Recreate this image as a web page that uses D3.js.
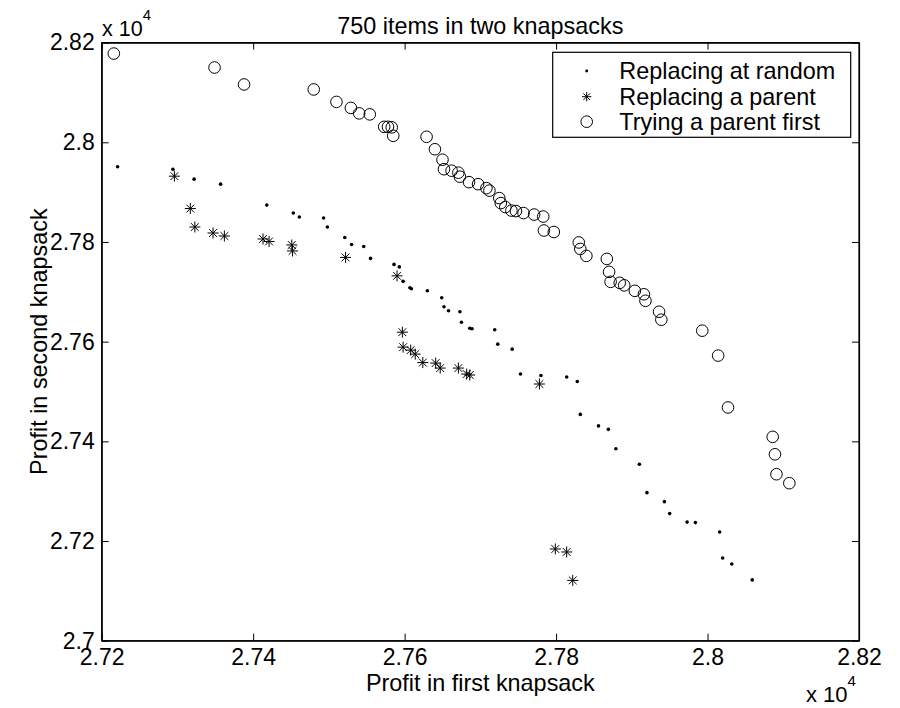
<!DOCTYPE html>
<html>
<head>
<meta charset="utf-8">
<script src="https://cdn.jsdelivr.net/npm/d3@7"></script>
<style>
  html, body { margin: 0; padding: 0; background: #fff; }
  svg { display: block; }
  text { font-family: "Liberation Sans", Arial, Helvetica, sans-serif; fill: #000; }
</style>
</head>
<body>
<svg id="chart" width="900" height="708"></svg>
<script>
// ---- Data (values in raw units; axes show x 10^4) ----
const title = "750 items in two knapsacks";
const xLabel = "Profit in first knapsack";
const yLabel = "Profit in second knapsack";
const seriesNames = ["Replacing at random", "Replacing a parent", "Trying a parent first"];

const xTicks = [27200, 27400, 27600, 27800, 28000, 28200];
const xTickLabels = ["2.72", "2.74", "2.76", "2.78", "2.8", "2.82"];
const yTicks = [27000, 27200, 27400, 27600, 27800, 28000, 28200];
const yTickLabels = ["2.7", "2.72", "2.74", "2.76", "2.78", "2.8", "2.82"];

// Replacing at random (dots)
const randomX = [27221, 27294, 27322, 27357, 27418, 27453, 27461, 27493, 27498, 27521, 27530, 27546,
  27555, 27586, 27593, 27598, 27607, 27609, 27630, 27649, 27652, 27658, 27673, 27675, 27686, 27689,
  27719, 27723, 27742, 27753, 27780, 27814, 27828, 27832, 27856, 27869, 27879, 27910, 27920, 27943,
  27950, 27973, 27984, 28016, 28020, 28032, 28059];
const randomY = [27951, 27946, 27926, 27916, 27874, 27858, 27850, 27848, 27830, 27809, 27795, 27791,
  27767, 27755, 27750, 27721, 27708, 27706, 27702, 27688, 27670, 27662, 27660, 27639, 27627, 27626,
  27624, 27595, 27585, 27535, 27532, 27529, 27520, 27454, 27431, 27424, 27385, 27354, 27297, 27279,
  27255, 27238, 27237, 27218, 27166, 27154, 27122];

// Replacing a parent (asterisks)
const parentX = [27296, 27317, 27323, 27347, 27362, 27413, 27421, 27451, 27452, 27522, 27590, 27597,
  27598, 27608, 27614, 27624, 27641, 27647, 27671, 27682, 27686, 27778, 27799, 27814, 27822];
const parentY = [27932, 27867, 27830, 27818, 27812, 27806, 27801, 27794, 27782, 27769, 27732, 27619,
  27589, 27583, 27575, 27558, 27557, 27547, 27547, 27535, 27533, 27515, 27184, 27178, 27121];

// Trying a parent first (circles)
const firstX = [27216, 27349, 27388, 27480, 27510, 27529, 27540, 27554, 27573, 27578, 27583, 27585,
  27629, 27640, 27650, 27652, 27662, 27671, 27673, 27685, 27697, 27708, 27712, 27725, 27727, 27733,
  27741, 27747, 27757, 27771, 27783, 27784, 27797, 27830, 27832, 27840, 27867, 27870, 27872, 27884,
  27890, 27904, 27916, 27918, 27936, 27939, 27993, 28014, 28027, 28086, 28089, 28091, 28108];
const firstY = [28178, 28150, 28116, 28106, 28081, 28069, 28058, 28056, 28031, 28031, 28030, 28013,
  28011, 27986, 27965, 27946, 27943, 27939, 27931, 27920, 27916, 27908, 27903, 27888, 27878, 27870,
  27863, 27862, 27858, 27855, 27851, 27823, 27820, 27799, 27786, 27772, 27766, 27740, 27720, 27718,
  27713, 27702, 27695, 27682, 27660, 27644, 27622, 27572, 27468, 27409, 27374, 27334, 27316];

// ---- Layout ----
const svg = d3.select("#chart");
const L = 101.7, R = 859, T = 42.6, B = 640.7;
const x = d3.scaleLinear().domain([27200, 28200]).range([L, R]);
const y = d3.scaleLinear().domain([27000, 28200]).range([B, T]);
const FS = 23.4, TFS = 23;
const tickLen = 7;

// Box
svg.append("rect").attr("x", L).attr("y", T).attr("width", R - L).attr("height", B - T)
  .attr("fill", "#fff").attr("stroke", "#000").attr("stroke-width", 1.2);

// Axes with inward ticks
const xfmt = d => xTickLabels[xTicks.indexOf(d)];
const yfmt = d => yTickLabels[yTicks.indexOf(d)];

const gx = svg.append("g").attr("transform", `translate(0,${B})`)
  .call(d3.axisBottom(x).tickValues(xTicks).tickFormat(xfmt).tickSizeInner(-tickLen).tickSizeOuter(0).tickPadding(8));
const gxt = svg.append("g").attr("transform", `translate(0,${T})`)
  .call(d3.axisTop(x).tickValues(xTicks).tickFormat("").tickSizeInner(-tickLen).tickSizeOuter(0));
const gy = svg.append("g").attr("transform", `translate(${L},0)`)
  .call(d3.axisLeft(y).tickValues(yTicks).tickFormat(yfmt).tickSizeInner(-tickLen).tickSizeOuter(0).tickPadding(7));
const gyr = svg.append("g").attr("transform", `translate(${R},0)`)
  .call(d3.axisRight(y).tickValues(yTicks).tickFormat("").tickSizeInner(-tickLen).tickSizeOuter(0));

[gx, gxt, gy, gyr].forEach(g => {
  g.select(".domain").attr("stroke", "#000").attr("stroke-width", 1.2);
  g.selectAll(".tick line").attr("stroke", "#000").attr("stroke-width", 1);
  g.selectAll("text").attr("font-size", TFS).attr("font-family", "Liberation Sans, Arial, sans-serif").attr("fill", "#000");
});

// Markers
const dotR = 1.8, circR = 5.8, starH = 5.5;
function drawStar(g, cx, cy, h) {
  const d = h * Math.SQRT1_2;
  const p = `M${cx - h},${cy}L${cx + h},${cy}M${cx},${cy - h}L${cx},${cy + h}` +
            `M${cx - d},${cy - d}L${cx + d},${cy + d}M${cx - d},${cy + d}L${cx + d},${cy - d}`;
  g.append("path").attr("d", p).attr("stroke", "#000").attr("stroke-width", 1).attr("fill", "none");
}

const plot = svg.append("g");
plot.selectAll("circle.rand").data(randomX.map((v, i) => [v, randomY[i]])).enter()
  .append("circle").attr("class", "rand")
  .attr("cx", d => x(d[0])).attr("cy", d => y(d[1])).attr("r", dotR).attr("fill", "#000");

const starG = plot.append("g");
parentX.forEach((v, i) => drawStar(starG, x(v), y(parentY[i]), starH));

plot.selectAll("circle.first").data(firstX.map((v, i) => [v, firstY[i]])).enter()
  .append("circle").attr("class", "first")
  .attr("cx", d => x(d[0])).attr("cy", d => y(d[1])).attr("r", circR)
  .attr("fill", "none").attr("stroke", "#000").attr("stroke-width", 1);

// Legend
const lg = svg.append("g");
lg.append("rect").attr("x", 552.7).attr("y", 52.3).attr("width", 298).attr("height", 85)
  .attr("fill", "#fff").attr("stroke", "#000").attr("stroke-width", 1.2);
const rowY = [71, 96.7, 121.7];
const mx = 586.7, tx = 619.3;
lg.append("circle").attr("cx", mx).attr("cy", rowY[0]).attr("r", dotR * 0.8).attr("fill", "#000");
drawStar(lg, mx, rowY[1], starH * 0.85);
lg.append("circle").attr("cx", mx).attr("cy", rowY[2]).attr("r", circR).attr("fill", "none").attr("stroke", "#000");
seriesNames.forEach((n, i) => {
  lg.append("text").attr("x", tx).attr("y", rowY[i]).attr("dy", "0.35em").attr("font-size", FS).text(n);
});

// Title and labels
svg.append("text").attr("x", (L + R) / 2).attr("y", 34).attr("text-anchor", "middle")
  .attr("font-size", FS).text(title);
svg.append("text").attr("x", (L + R) / 2).attr("y", 691).attr("text-anchor", "middle")
  .attr("font-size", FS).text(xLabel);
svg.append("text").attr("transform", `translate(47,${(T + B) / 2}) rotate(-90)`)
  .attr("text-anchor", "middle").attr("font-size", FS).text(yLabel);

// Exponent labels
function expLabel(xp, yp, fs) {
  const t = svg.append("text").attr("x", xp).attr("y", yp).attr("font-size", fs);
  t.append("tspan").text("x 10");
  t.append("tspan").attr("dy", -16).attr("font-size", 15).text("4");
}
expLabel(102, 36, 21.5);
expLabel(806, 702, 22);
</script>
</body>
</html>
